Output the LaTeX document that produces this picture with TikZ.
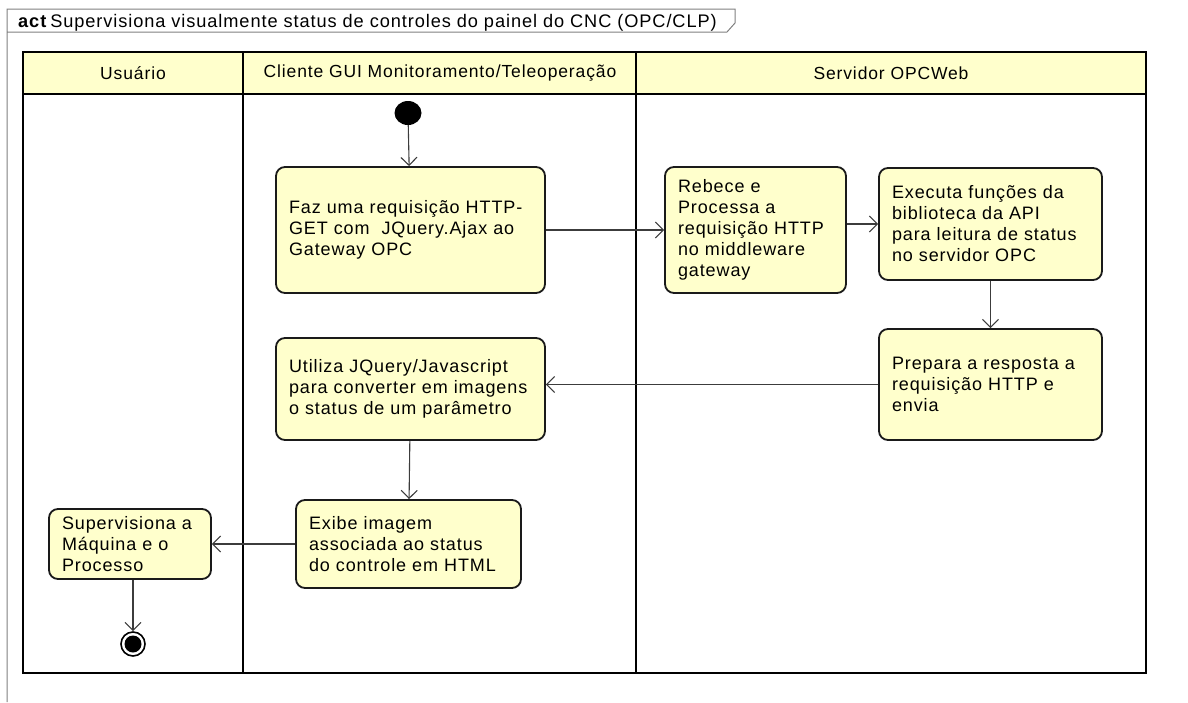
\documentclass[tikz,border=0pt]{standalone}
\usepackage{fontspec}
\setmainfont{Liberation Sans}[LetterSpace=5]
\usetikzlibrary{arrows.meta,positioning,shapes.geometric}

\definecolor{amarelo}{HTML}{FFFFCC}
\definecolor{contorno}{HTML}{1A1A1A}
\definecolor{seta}{HTML}{3C3C3C}

\begin{document}
\begin{tikzpicture}[
        x=1pt, y=-1pt,
        % Estilo para as ações
        acao/.style = {
            draw=contorno,
            fill=amarelo,
            rounded corners=9pt,
            line width=1.8pt,
            align=left,
            inner xsep=13pt,
            inner ysep=0pt,
            font=\fontsize{18}{21}\selectfont
        },
        % Estilo para os cabeçalhos das raias
        cabecalho/.style = {
            font=\fontsize{17.5}{21}\selectfont
        },
        % Estilo das raias
        raia/.style = {
            draw=black,
            line width=2.4pt
        },
        % Estilo das setas
        fluxo/.style = {
            -{Straight Barb[length=8pt,width=16pt]},
            draw=seta,
            line width=1.1pt
        }
    ]
    \useasboundingbox (0,0) rectangle (1188,702);

    % Moldura do diagrama
    \draw[gray, line width=1pt] (7,702) -- (7,9) -- (735,9) -- (735,23) -- (727,32) -- (7,32);
    \node[anchor=base west, inner sep=0pt, font=\fontsize{18.2}{20}\selectfont] (titulo) at (18,27)
        {\textbf{act}\,Supervisiona visualmente status de controles do painel do CNC (OPC/CLP)};

    % Raias
    \fill[amarelo] (23,52) rectangle (1146,94);
    \draw[raia] (23,52) rectangle (1146,673);
    \draw[raia] (23,94) -- (1146,94);
    \draw[raia] (243,52) -- (243,673);
    \draw[raia] (636,52) -- (636,673);
    \node[cabecalho] (usuario)  at (133,73) {Usuário};
    \node[cabecalho] (cliente)  at (440,73) {Cliente GUI Monitoramento/Teleoperação};
    \node[cabecalho] (servidor) at (891,73) {Servidor OPCWeb};

    % Nó inicial e nó final
    \node[fill=black, ellipse, minimum width=27pt, minimum height=24pt, inner sep=0pt] (inicio) at (408,113) {};
    \node[draw=black, fill=white, circle, line width=1.6pt, minimum size=24pt, inner sep=0pt] (fim) at (133,644) {};
    \fill[black] (fim) circle (8.5pt);

    % Ações
    \node[acao, text width=243pt, minimum height=126pt] (requisicao) at (410.5,230)
        {Faz uma requisição HTTP-\\GET com\ \ JQuery.Ajax ao\\Gateway OPC};
    \node[acao, text width=155pt, minimum height=126pt] (recebe) at (755.5,230)
        {Rebece e\\Processa a\\requisição HTTP\\no middleware\\gateway};
    \node[acao, text width=197pt, minimum height=112pt] (executa) at (990.5,224)
        {Executa funções da\\biblioteca da API\\para leitura de status\\no servidor OPC};
    \node[acao, text width=197pt, minimum height=111pt] (prepara) at (990.5,384.5)
        {Prepara a resposta a\\requisição HTTP e\\envia};
    \node[acao, text width=243pt, minimum height=102pt] (converte) at (410.5,389)
        {Utiliza JQuery/Javascript\\para converter em imagens\\o status de um parâmetro};
    \node[acao, text width=199pt, minimum height=88pt] (exibe) at (408.5,544)
        {Exibe imagem\\associada ao status\\do controle em HTML};
    \node[acao, text width=136pt, minimum height=70pt] (supervisiona) at (130,544)
        {Supervisiona a\\Máquina e o\\Processo};

    % Fluxos
    \draw[fluxo] (inicio) -- (requisicao);
    \draw[fluxo] (requisicao) -- (recebe);
    \draw[fluxo] (recebe.east |- executa) -- (executa);
    \draw[fluxo] (executa) -- (prepara);
    \draw[fluxo] (prepara.west) -- (converte.east |- prepara.west);
    \draw[fluxo] (converte) -- (exibe);
    \draw[fluxo] (exibe) -- (supervisiona);
    \draw[fluxo] (supervisiona.south -| fim) -- (fim);
\end{tikzpicture}
\end{document}
